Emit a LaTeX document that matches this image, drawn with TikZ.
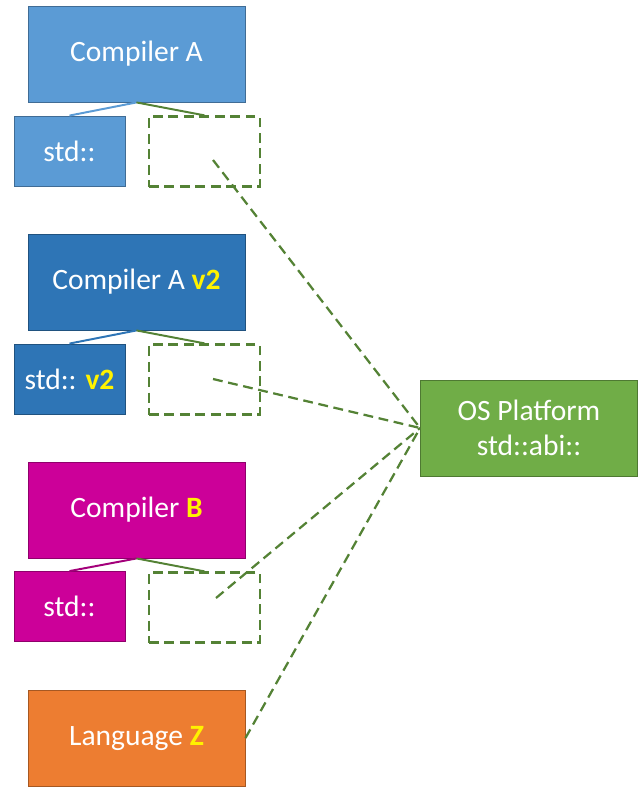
\documentclass[tikz,border=0pt]{standalone}
\usepackage{fontspec}
\setmainfont{Carlito}
\usepackage{xcolor}
\usetikzlibrary{positioning}
\definecolor{compblue}{HTML}{5B9BD5}
\definecolor{compbluedark}{HTML}{2E75B6}
\definecolor{compmagenta}{HTML}{CC0099}
\definecolor{langorange}{HTML}{ED7D31}
\definecolor{osgreen}{HTML}{70AD47}
\definecolor{abigreen}{HTML}{548235}
\newcommand{\hl}[1]{\textbf{\color{yellow}#1}}

\begin{document}
\begin{tikzpicture}[x=0.025cm, y=-0.025cm,
        bigbox/.style={rectangle, draw=#1!70!black, fill=#1, text=white, minimum width=5.425cm, minimum height=2.4cm, font=\fontsize{21}{25}\selectfont, line width=0.6pt},
        libbox/.style={rectangle, draw=#1!70!black, fill=#1, text=white, minimum width=2.775cm, minimum height=1.75cm, font=\fontsize{21}{25}\selectfont, line width=0.6pt},
        slot/.style={rectangle, draw=abigreen, line width=1.6pt, dash pattern=on 7pt off 4pt, minimum width=2.775cm, minimum height=1.75cm},
        link/.style={draw=#1, line width=1.4pt},
        abi/.style={draw=abigreen, line width=1.6pt, dash pattern=on 7pt off 4pt}]
        \useasboundingbox (0,0) rectangle (637,787);

        % compilers
        \node [bigbox=compblue] (compA) at (136.5,54) {Compiler A};
        \node [libbox=compblue] (stdA) at (69.5,151) {std::};
        \node [slot] (slotA) at (204.5,151.5) {};

        \node [bigbox=compbluedark] (compA2) at (136.5,282) {Compiler A \hl{v2}};
        \node [libbox=compbluedark] (stdA2) at (69.5,379) {std:: \hl{v2}};
        \node [slot] (slotA2) at (204.5,379.5) {};

        \node [bigbox=compmagenta] (compB) at (136.5,510) {Compiler \hl{B}};
        \node [libbox=compmagenta] (stdB) at (69.5,606.5) {std::};
        \node [slot] (slotB) at (204.5,607.5) {};

        \node [bigbox=langorange] (langZ) at (136.5,738) {Language \hl{Z}};

        % platform
        \node [bigbox=osgreen, align=center] (os) at (529,428) {OS Platform\\std::abi::};

        \coordinate (endA) at (213,160);
        \coordinate (endA2) at (213,379);
        \coordinate (endB) at (216,598);

        \path [link=compblue] (compA.south) -- (stdA.north);
        \path [link=abigreen] (compA.south) -- (slotA.north);
        \path [link=compbluedark] (compA2.south) -- (stdA2.north);
        \path [link=abigreen] (compA2.south) -- (slotA2.north);
        \path [link=compmagenta!80!black] (compB.south) -- (stdB.north);
        \path [link=abigreen] (compB.south) -- (slotB.north);

        \path [abi] (endA) -- (os.west);
        \path [abi] (endA2) -- (os.west);
        \path [abi] (endB) -- (os.west);
        \path [abi] (langZ.east) -- (os.west);
    \end{tikzpicture}
\end{document}
